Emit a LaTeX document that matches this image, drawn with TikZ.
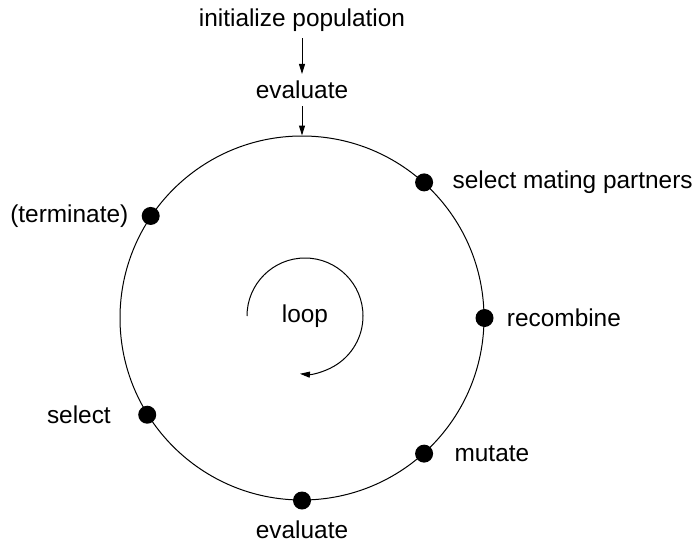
\documentclass[tikz,border=0pt]{standalone}
\usepackage{fontspec}
\setmainfont{Liberation Sans}
\usetikzlibrary{positioning,arrows.meta}

\begin{document}
\begin{tikzpicture}[x=0.5pt,y=0.5pt,
	every node/.style={font=\fontsize{12.2}{15}\selectfont},
	stage/.style={circle, fill=black, inner sep=0pt, minimum size=9pt},
	flow/.style={line width=0.5pt, -{Triangle[length=5pt,width=3pt]}}]
	\useasboundingbox (0,0) rectangle (695,542);

	% entry of the loop
	\node (init) at (302,522) {initialize population};
	\node (eval) at (302,452) {evaluate};

	% Big cycle
	\node (ring) [circle, draw, line width=0.5pt, minimum size=182pt, inner sep=0pt] at (302,224) {};
	\draw[flow] (init) -- (eval);
	\draw[flow] (eval) -- (ring.north);

	% Stages on the cycle
	\node (mate) [stage] at (ring.48.6) {};
	\node (reco) [stage] at (ring.0) {};
	\node (muta) [stage] at (ring.-48) {};
	\node (eva2) [stage] at (ring.-90) {};
	\node (sele) [stage] at (ring.212) {};
	\node (term) [stage] at (ring.146.7) {};

	\node [right=6pt of mate] {select mating partners};
	\node [right=3pt of reco] {recombine};
	\node [right=7pt of muta] {mutate};
	\node [below=2pt of eva2] {evaluate};
	\node [left=10pt of sele] {select};
	\node [left=3pt of term] {(terminate)};

	% inner arrow
	\node (loop) at (305,226) {loop};
	\draw[flow] ([shift={(180:29pt)}]loop.center) arc (180:-95:29pt);
\end{tikzpicture}
\end{document}
